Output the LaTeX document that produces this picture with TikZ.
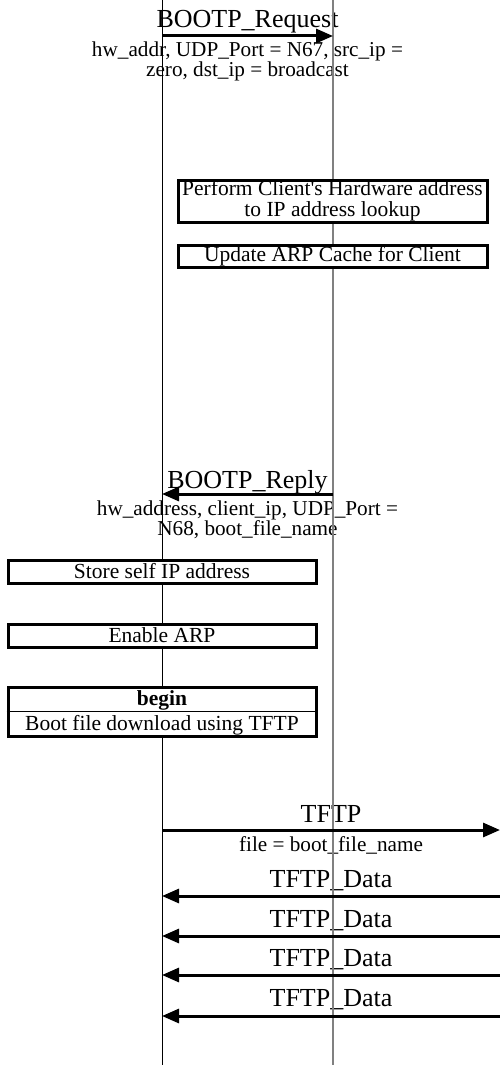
\documentclass[tikz,border=0pt]{standalone}
\usepackage{fontspec}
\setmainfont{Liberation Serif}
\usetikzlibrary{arrows.meta}
\begin{document}
\begin{tikzpicture}[x=1pt,y=-1pt,
  msgname/.style={font=\fontsize{26}{28}\selectfont, anchor=base, inner sep=0pt},
  msgnote/.style={font=\fontsize{21.2}{20.5}\selectfont, anchor=base, inner sep=0pt, align=center},
  actbox/.style={draw, line width=3pt, fill=white, inner sep=0pt, align=center,
    font=\fontsize{21.5}{21}\selectfont},
  acttext/.style={font=\fontsize{21.5}{21}\selectfont, anchor=base, inner sep=0pt},
  msg/.style={line width=3pt, -{Triangle[length=17pt,width=14pt]}},
  clientline/.style={line width=1pt, black},
  serverline/.style={line width=2pt, gray}]
\useasboundingbox (0,0) rectangle (500,1065);

% lifeline ends
\coordinate (cTop) at (162,0);
\coordinate (cBot) at (162,1065);
\coordinate (sTop) at (333,0);
\coordinate (sBot) at (333,1065);
\coordinate (xEdge) at (500,0);

% message labels (two-line notes are placed by their last baseline)
\node[msgname] (reqName) at (247.5,27.5) {BOOTP\_Request};
\node[msgnote] (reqNote) at (247.5,77) {hw\_addr, UDP\_Port = N67, src\_ip =\\zero, dst\_ip = broadcast};
\node[msgname] (repName) at (247.5,488) {BOOTP\_Reply};
\node[msgnote] (repNote) at (247.5,535.5) {hw\_address, client\_ip, UDP\_Port =\\N68, boot\_file\_name};
\node[msgname] (tftpName) at (331,822) {TFTP};
\node[msgnote] (tftpNote) at (331,851) {file = boot\_file\_name};
\node[msgname] (d1Name) at (331,887) {TFTP\_Data};
\node[msgname] (d2Name) at (331,927) {TFTP\_Data};
\node[msgname] (d3Name) at (331,966) {TFTP\_Data};
\node[msgname] (d4Name) at (331,1006) {TFTP\_Data};

% lifelines
\draw[clientline] (cTop) -- (cBot);
\draw[serverline] (sTop) -- (sBot);

% server actions
\node[actbox, minimum width=309pt, minimum height=42pt] (lookup) at (332.5,201)
  {Perform Client\textquotesingle s Hardware address\\to IP address lookup};
\node[actbox, minimum width=309pt, minimum height=22pt] (arpcache) at (332.5,256)
  {Update ARP Cache for Client};

% client actions
\node[actbox, minimum width=308pt, minimum height=23pt] (storeip) at (162,571.5)
  {Store self IP address};
\node[actbox, minimum width=308pt, minimum height=23pt] (enarp) at (162,635.5)
  {Enable ARP};
\node[actbox, minimum width=308pt, minimum height=49pt] (dlbox) at (162,711.5) {};
\draw[line width=1.2pt] (dlbox.west) -- (dlbox.east);
\node[acttext] (dlbegin) at (162,705) {\textbf{begin}};
\node[acttext] (dltext) at (162,730) {Boot file download using TFTP};

% messages
\coordinate (req1) at (cTop |- 0,36);
\coordinate (req2) at (sTop |- 0,36);
\coordinate (rep1) at (sTop |- 0,494);
\coordinate (rep2) at (cTop |- 0,494);
\coordinate (tf1) at (cTop |- 0,830);
\coordinate (tf2) at (xEdge |- 0,830);
\draw[msg] (req1) -- (req2);
\draw[msg] (rep1) -- (rep2);
\draw[msg] (tf1) -- (tf2);
\foreach \y [count=\i] in {896,936,975,1016} {
  \coordinate (dA\i) at (xEdge |- 0,\y);
  \coordinate (dB\i) at (cTop |- 0,\y);
  \draw[msg] (dA\i) -- (dB\i);
}
\end{tikzpicture}
\end{document}
